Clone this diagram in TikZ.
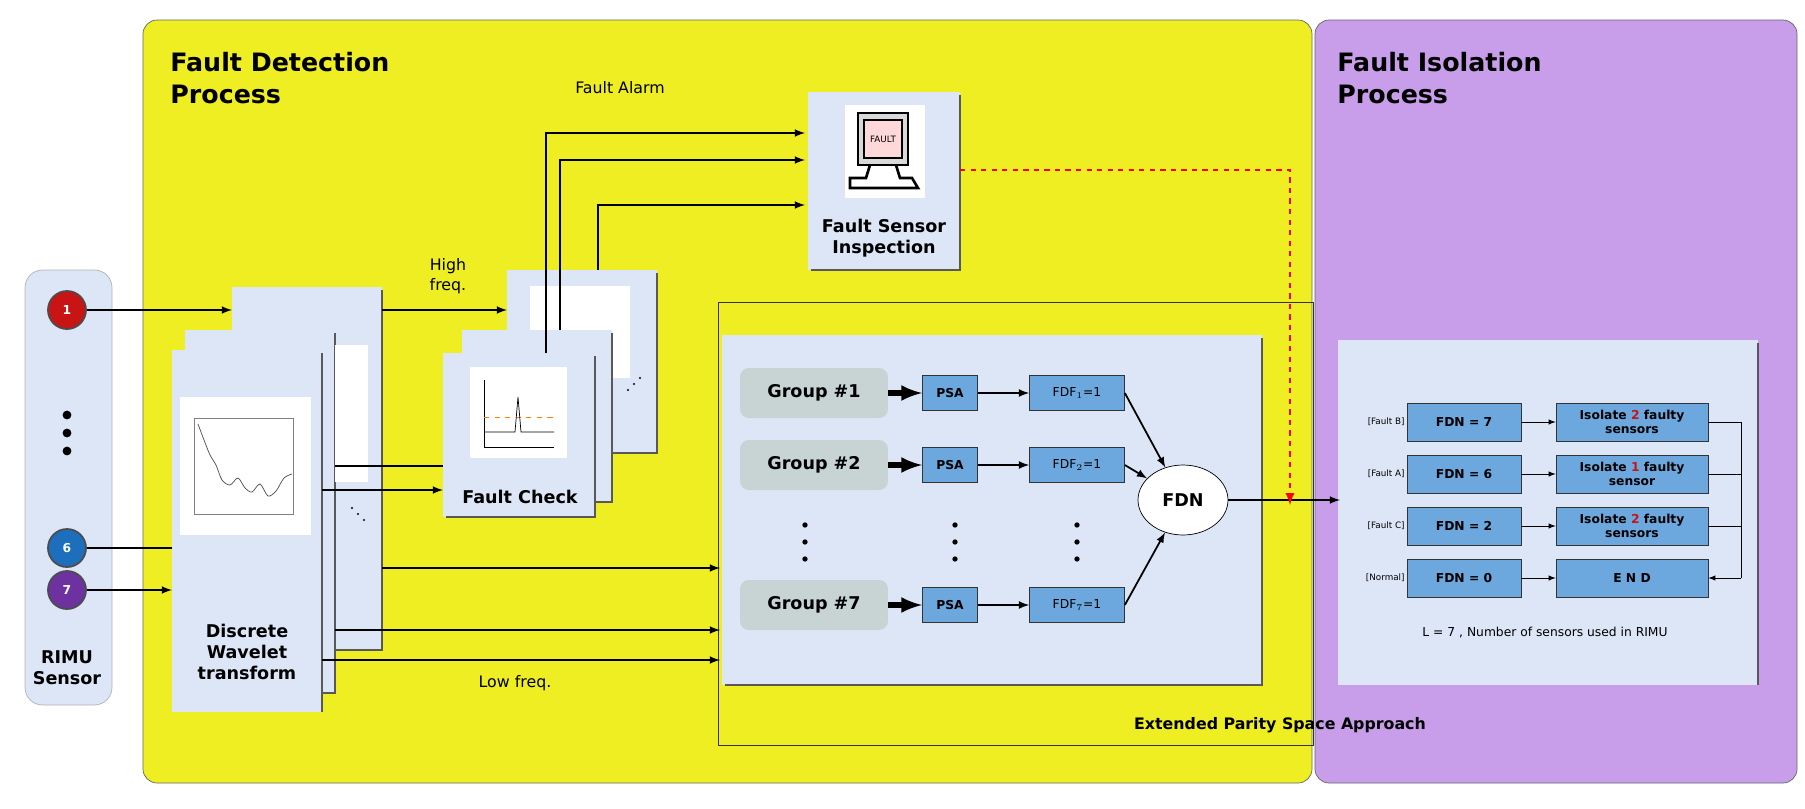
\documentclass[tikz,border=0pt]{standalone}
\usepackage{fontspec}
\setmainfont{DejaVu Sans}
\usetikzlibrary{arrows,shapes.geometric}
\definecolor{fdyellow}{RGB}{238,238,34}
\definecolor{fipurple}{RGB}{200,158,234}
\definecolor{paleblue}{RGB}{220,230,246}
\definecolor{boxblue}{RGB}{108,168,222}
\definecolor{groupgrey}{RGB}{200,212,212}
\definecolor{darkred}{RGB}{200,20,20}
\definecolor{sensblue}{RGB}{30,110,190}
\definecolor{senspurple}{RGB}{110,50,160}
\tikzset{
  sheet/.style={fill=paleblue, draw=none},
  sheetshade/.style={draw=gray!70!black, line width=1.2pt},
  fdnbox/.style={draw=black!80, fill=boxblue, minimum width=2.28cm, minimum height=0.76cm, font=\scriptsize\bfseries, align=center, inner sep=1pt},
  isobox/.style={fdnbox, minimum width=3.04cm},
  psabox/.style={draw=black!80, fill=boxblue, minimum width=1.1cm, minimum height=0.7cm, font=\scriptsize\bfseries},
  fdfbox/.style={psabox, minimum width=1.9cm, font=\scriptsize},
  group/.style={fill=groupgrey, rounded corners=5pt, minimum width=2.96cm, minimum height=1cm, font=\normalsize\bfseries},
  sensor/.style={circle, draw=black!70, line width=1pt, minimum size=0.76cm, font=\scriptsize\bfseries, text=white},
  conn/.style={->, >=latex, line width=1pt},
  title/.style={font=\Large\bfseries, align=left, anchor=north west, inner sep=0pt},
}
\begin{document}
\begin{tikzpicture}[x=0.02cm,y=-0.02cm]
\useasboundingbox (0,0) rectangle (1805,808);
% process panels
\draw[fill=fdyellow, draw=black!60, rounded corners=8pt] (143,20) rectangle (1312,783);
\draw[fill=fipurple, draw=black!60, rounded corners=8pt] (1315,20) rectangle (1797,783);
\node[title] (fdtitle) at (170,52) {Fault Detection\\Process};
\node[title] (fititle) at (1337,52) {Fault Isolation\\Process};
% RIMU sensor
\draw[fill=paleblue, draw=gray!60, rounded corners=10pt] (25,270) rectangle (112,705);
\node[sensor, fill=darkred] (s1) at (67,310) {1};
\node[sensor, fill=sensblue] (s6) at (67,548) {6};
\node[sensor, fill=senspurple] (s7) at (67,590) {7};
\foreach \y in {415,433,451} \fill (67,\y) circle (2.5pt);
\node[font=\normalsize\bfseries, align=center] (rimu) at (67,668) {RIMU\\Sensor};
% DWT sheets
\fill[sheet] (232,287) rectangle (382,650);
\draw[sheetshade] (382,290) -- (382,650) -- (235,650);
\fill[sheet] (185,330) rectangle (335,693);
\draw[sheetshade] (335,333) -- (335,693) -- (188,693);
\fill[white] (335,345) rectangle (368,482);
\fill[sheet] (172,350) rectangle (322,712);
\draw[sheetshade] (322,353) -- (322,712);
\fill[white] (180,397) rectangle (311,535);
\draw[gray] (194,418) rectangle (293,514);
\draw[black!70] plot[smooth] coordinates {(198,424) (204,440) (210,455) (216,465) (222,480) (230,485) (238,478) (245,488) (252,492) (260,484) (268,496) (276,491) (284,478) (292,474)};
\node[font=\normalsize\bfseries, align=center] (dwt) at (247,652) {Discrete\\Wavelet\\transform};
\foreach \p in {(352,508),(358,514),(364,520)} \fill \p circle (0.6pt);
% Fault check sheets
\fill[sheet] (507,270) rectangle (657,453);
\draw[sheetshade] (657,273) -- (657,453) -- (510,453);
\fill[white] (530,286) rectangle (630,378);
\fill[sheet] (462,330) rectangle (612,502);
\draw[sheetshade] (612,333) -- (612,502) -- (465,502);
\fill[sheet] (443,353) rectangle (595,517);
\draw[sheetshade] (595,356) -- (595,517) -- (446,517);
\fill[white] (470,367) rectangle (567,458);
\draw[black] (484,380) -- (484,447) -- (554,447);
\draw[orange, dashed] (484,417) -- (554,417);
\draw[black] (484,432) -- (515,432) -- (518,397) -- (521,432) -- (554,432);
\node[font=\normalsize\bfseries] (fcheck) at (520,497) {Fault Check};
\foreach \p in {(628,390),(634,384),(640,378)} \fill \p circle (0.6pt);
% fault sensor inspection
\fill[sheet] (808,92) rectangle (960,270);
\draw[sheetshade] (960,95) -- (960,270) -- (811,270);
\fill[white] (845,105) rectangle (925,198);
\draw[line width=1.5pt, fill=black!15] (858,113) rectangle (908,165);
\draw[line width=1.2pt, fill=pink!60] (864,120) rectangle (902,158);
\node[font=\tiny] (faulttag) at (883,139) {FAULT};
\draw[line width=1.5pt] (870,165) -- (866,178) -- (850,178) -- (850,188) -- (918,188) -- (912,178) -- (900,178) -- (896,165);
\node[font=\normalsize\bfseries, align=center] (fsi) at (884,238) {Fault Sensor\\Inspection};
% sensor connectors
\coordinate (dwtback) at (232,310);
\coordinate (dwtfront6) at (172,548);
\coordinate (dwtfront7) at (172,590);
\draw[conn] (s1) -- (dwtback);
\draw[line width=1pt] (s6) -- (dwtfront6);
\draw[conn] (s7) -- (dwtfront7);
% high frequency
\draw[conn] (382,310) -- (507,310);
\node[font=\small, align=center] (high) at (448,276) {High\\freq.};
\draw[line width=1pt] (335,466) -- (443,466);
\draw[conn] (322,490) -- (443,490);
% fault alarm
\node[font=\small] (alarm) at (620,88) {Fault Alarm};
\draw[conn] (546,353) |- (805,133);
\draw[conn] (560,330) |- (805,160);
\draw[conn] (598,270) |- (805,205);
% EPSA
\draw[black!80] (718,302) rectangle (1313,745);
\fill[sheet] (722,335) rectangle (1262,685);
\draw[sheetshade] (1262,338) -- (1262,685) -- (725,685);
\node[font=\small\bfseries] (epsa) at (1280,725) {Extended Parity Space Approach};
% low frequency
\draw[conn] (382,568) -- (720,568);
\draw[conn] (335,630) -- (720,630);
\draw[conn] (322,660) -- (720,660);
\node[font=\small] (low) at (515,683) {Low freq.};
% groups
\foreach \n/\y in {1/393,2/465,7/605} {
  \node[group] (g\n) at (814,\y) {Group \#\n};
  \node[psabox] (p\n) at (950,\y) {PSA};
  \node[fdfbox] (f\n) at (1077,\y) {FDF$_{\n}$=1};
  \draw[->, >=latex, line width=3pt] (g\n) -- (p\n);
  \draw[conn] (p\n) -- (f\n);
}
\foreach \x in {805,955,1077} \foreach \y in {525,542,559} \fill (\x,\y) circle (1.5pt);
\node[ellipse, draw, fill=white, minimum width=1.8cm, minimum height=1.4cm, font=\normalsize\bfseries] (fdn) at (1183,500) {FDN};
\foreach \n in {1,2,7} \draw[conn] (f\n.east) -- (fdn);
% isolation
\fill[sheet] (1338,340) rectangle (1758,685);
\draw[sheetshade] (1758,343) -- (1758,685);
\draw[conn] (fdn) -- (1340,500);
\draw[red, dashed, line width=1.3pt, ->, >=latex] (960,170) -| (1290,505);
\foreach \i/\lab/\v/\y in {1/{[Fault B]}/7/422,2/{[Fault A]}/6/474,3/{[Fault C]}/2/526,4/{[Normal]}/0/578} {
  \node[fdnbox] (d\i) at (1464,\y) {FDN = \v};
  \node[font=\tiny, anchor=east, inner sep=1pt] (l\i) at (d\i.west) {\lab};
}
\node[isobox] (i1) at (1632,422) {Isolate \textcolor{darkred}{2} faulty\\sensors};
\node[isobox] (i2) at (1632,474) {Isolate \textcolor{darkred}{1} faulty\\sensor};
\node[isobox] (i3) at (1632,526) {Isolate \textcolor{darkred}{2} faulty\\sensors};
\node[isobox] (i4) at (1632,578) {E N D};
\foreach \i in {1,...,4} \draw[->, >=latex] (d\i) -- (i\i);
\coordinate (bus) at (1741,422);
\draw (i1.east) -- (bus) -- (1741,578);
\draw (i2.east) -- (1741,474);
\draw (i3.east) -- (1741,526);
\draw[->, >=latex] (1741,578) -- (i4.east);
\node[font=\scriptsize] (lnote) at (1545,633) {L = 7 , Number of sensors used in RIMU};
\end{tikzpicture}
\end{document}
